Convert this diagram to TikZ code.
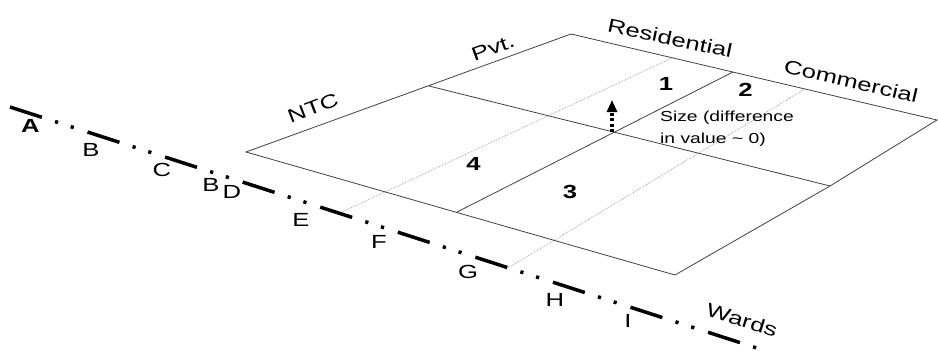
\documentclass[tikz,border=0pt]{standalone}
\usepackage{fontspec}
\setmainfont{Liberation Sans}[FakeStretch=1.35]
\newfontfamily\notefont{Liberation Sans}[FakeStretch=1.33]
\usetikzlibrary{arrows.meta}
\begin{document}
\begin{tikzpicture}[x=1pt,y=-1pt,
  frame/.style={draw=black!75, line width=0.8pt},
  guide/.style={draw=black!40, line width=0.7pt, densely dotted},
  ward/.style={draw=black, line width=3.5pt, dash pattern=on 33.5pt off 13.8pt on 3.2pt off 13.3pt on 3.2pt off 14.5pt},
  lbl/.style={inner sep=0pt, font=\fontsize{19}{22}\selectfont},
  num/.style={inner sep=0pt, font=\fontsize{19}{22}\selectfont\bfseries},
  note/.style={inner sep=0pt, anchor=base west, font=\notefont\fontsize{14.5}{17}\selectfont},
]
\useasboundingbox (0,0) rectangle (938,351);
% plane corners and inner lines
\coordinate (L) at (246,152);
\coordinate (T) at (571,34);
\coordinate (R) at (937,120);
\coordinate (Bt) at (675,275);
\coordinate (Rm) at (830,186);
\coordinate (Ml) at (429,86);
\coordinate (Sb) at (457,212);
\coordinate (St) at (733,72);
\coordinate (D1a) at (342,212);
\coordinate (D1b) at (672,58);
\coordinate (D2a) at (508,268);
\coordinate (D2b) at (805,89);
\coordinate (X) at (612,132);
\coordinate (Xt) at (612,100);
\coordinate (W0) at (10,107);
\coordinate (W1) at (762,349.7);

\draw[guide] (D1a) -- (D1b);
\draw[guide] (D2a) -- (D2b);
\draw[frame] (L) -- (T) -- (R) -- (Rm) -- (Bt) -- cycle;
\draw[frame] (Ml) -- (Rm);
\draw[frame] (Sb) -- (St);
\draw[ward] (W0) -- (W1);
\draw[line width=3.5pt, dash pattern=on 3pt off 2.5pt, -{Triangle[width=10pt,length=12pt]}] (X) -- (Xt);

% axis labels
\node[lbl, rotate=21] (ntc) at (313,108) {NTC};
\node[lbl, rotate=20] (pvt) at (493,48) {Pvt.};
\node[lbl, rotate=-12] (res) at (670,38) {Residential};
\node[lbl, rotate=-13] (com) at (851,81) {Commercial};
\node[lbl, rotate=-17] (wards) at (742,320) {Wards};

% ward letters
\node[lbl, font=\fontsize{19}{22}\selectfont\bfseries] (la) at (30.5,126) {A};
\node[lbl] (lb) at (91,150) {B};
\node[lbl] (lc) at (162,170) {C};
\node[lbl] (lb2) at (211,185) {B};
\node[lbl] (ld) at (232,192) {D};
\node[lbl] (le) at (301,219.5) {E};
\node[lbl] (lf) at (379,242) {F};
\node[lbl] (lg) at (468,272) {G};
\node[lbl] (lh) at (555,300) {H};
\node[lbl] (li) at (628,321) {I};

% cell numbers
\node[num] (n1) at (666,83.5) {1};
\node[num] (n2) at (745.5,90) {2};
\node[num] (n3) at (570,192) {3};
\node[num] (n4) at (473.5,163.5) {4};

% note
\node[note] (s1) at (660,121.5) {Size (difference};
\node[note] (s2) at (660,143) {in value \char"007E{} 0)};
\end{tikzpicture}
\end{document}
